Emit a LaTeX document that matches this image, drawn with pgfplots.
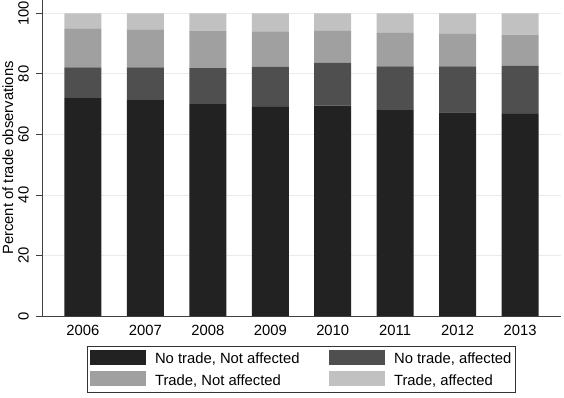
\documentclass[border=0pt]{standalone}
\usepackage{fontspec}
\setmainfont{Liberation Sans}
\usepackage{pgfplots}
\pgfplotsset{compat=1.18}
\definecolor{c1}{HTML}{222222}
\definecolor{c2}{HTML}{4F4F4F}
\definecolor{c3}{HTML}{A0A0A0}
\definecolor{c4}{HTML}{C1C1C1}
\definecolor{gridc}{HTML}{E8ECED}
\begin{document}
\fontsize{14.8}{17}\selectfont
\begin{tikzpicture}
\path[use as bounding box] (0,0) rectangle (564pt,397pt);
\begin{axis}[
  at={(42pt,81pt)}, anchor=south west,
  width=519pt, height=316pt, scale only axis,
  ybar stacked, bar width=0.592,
  legend image code/.code={\fill[#1] (0pt,-5pt) rectangle (56pt,10pt);},
  xmin=-0.656, xmax=7.656,
  ymin=0, ymax=104.4,
  axis lines=left,
  axis line style={-, line width=0.8pt, black!75},
  xtick={0,...,7},
  xticklabels={2006,2007,2008,2009,2010,2011,2012,2013},
  x tick style={draw=none},
  ytick={0,20,40,60,80,100},
  y tick style={line width=0.8pt, black!75},
  tick align=outside,
  major tick length=6pt,
  ymajorgrids,
  grid style={gridc, line width=0.8pt},
  /pgf/number format/assume math mode=true,
  tick label style={font=\fontsize{14.8}{17}\selectfont},
  yticklabel style={rotate=90, anchor=south, inner sep=2pt, yshift=5pt},
  xticklabel style={inner sep=3pt},
  ylabel={Percent of trade observations},
  ylabel style={font=\fontsize{14.8}{17}\selectfont, at={(-0.066,0.5)}, anchor=center},
  legend columns=2,
  legend cell align=left,
  legend style={at={(0.5,-0.096)}, anchor=north, draw=black!80, line width=0.8pt,
    inner xsep=2pt, inner ysep=3pt,
    font=\fontsize{14.8}{17}\selectfont,
    nodes={inner sep=2pt},
    row sep=3pt,
    /tikz/every odd column/.append style={column sep=7.5pt},
    /tikz/every even column/.append style={column sep=27pt}},
]
\addplot+[draw=none, fill=c1] coordinates {(0,72.0) (1,71.3) (2,70.0) (3,69.1) (4,69.5) (5,68.0) (6,67.3) (7,66.8)};
\addlegendentry{No trade, Not affected}
\addplot+[draw=none, fill=c2] coordinates {(0,10.1) (1,10.8) (2,11.9) (3,13.3) (4,14.2) (5,14.5) (6,15.2) (7,15.8)};
\addlegendentry{No trade, affected\hspace{25pt}}
\addplot+[draw=none, fill=c3] coordinates {(0,12.9) (1,12.6) (2,12.4) (3,11.6) (4,10.5) (5,11.0) (6,10.7) (7,10.4)};
\addlegendentry{Trade, Not affected}
\addplot+[draw=none, fill=c4] coordinates {(0,5.0) (1,5.3) (2,5.7) (3,6.0) (4,5.8) (5,6.5) (6,6.8) (7,7.0)};
\addlegendentry{Trade, affected}
\end{axis}
\end{tikzpicture}
\end{document}
